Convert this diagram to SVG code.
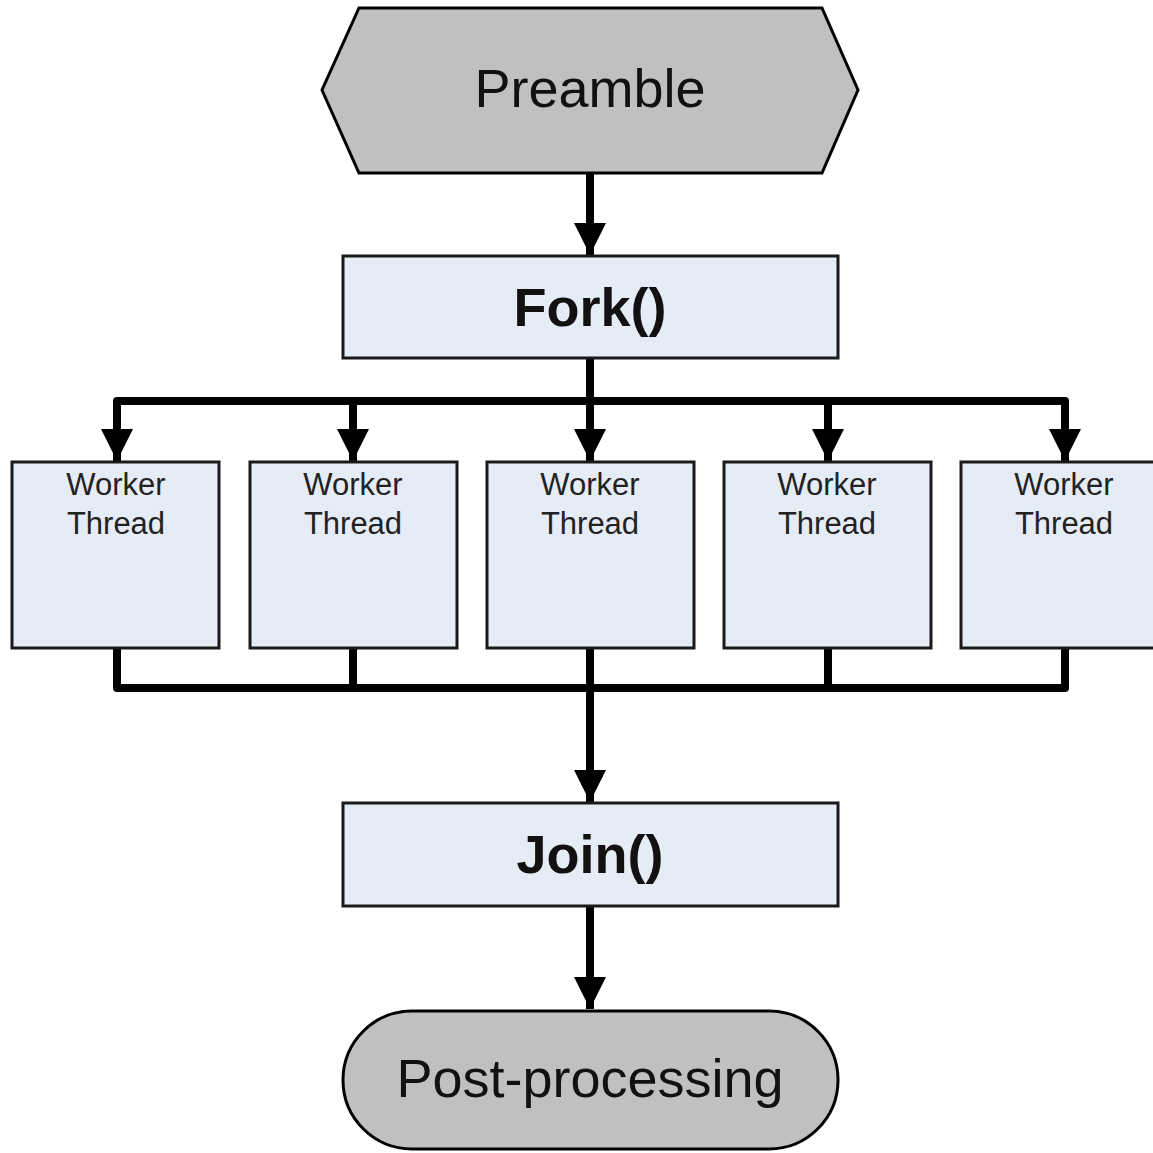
<svg xmlns="http://www.w3.org/2000/svg" width="1153" height="1153" viewBox="0 0 1153 1153">
  <defs>
    <marker id="arrow" viewBox="0 0 10 10" refX="10" refY="5" markerWidth="4" markerHeight="4" markerUnits="strokeWidth" orient="auto">
      <path d="M0,0 L10,5 L0,10 Z" fill="#000"/>
    </marker>
    <style>
      .gray { fill: #c0c0c0; stroke: #000; stroke-width: 3; }
      .box { fill: #e6ecf6; stroke: #1a1a1a; stroke-width: 3; }
      .wire { fill: none; stroke: #000; stroke-width: 8; stroke-linejoin: round; }
      .arr { fill: none; stroke: #000; stroke-width: 8; marker-end: url(#arrow); }
      .big { font-family: "Liberation Sans", Arial, sans-serif; font-size: 54px; fill: #111; text-anchor: middle; }
      .bold { font-weight: bold; }
      .small { font-family: "Liberation Sans", Arial, sans-serif; font-size: 31px; fill: #222; text-anchor: middle; }
    </style>
  </defs>
  <rect width="1153" height="1153" fill="#fff"/>

  <g id="connectors">
    <line class="arr" x1="590" y1="173" x2="590" y2="255"/>
    <path class="wire" d="M590,358 V401"/>
    <path class="wire" d="M117,430 V401 H1065 V430"/>
    <line class="arr" x1="117" y1="401" x2="117" y2="461"/>
    <line class="arr" x1="353" y1="401" x2="353" y2="461"/>
    <line class="arr" x1="590" y1="401" x2="590" y2="461"/>
    <line class="arr" x1="828" y1="401" x2="828" y2="461"/>
    <line class="arr" x1="1065" y1="401" x2="1065" y2="461"/>
    <path class="wire" d="M117,648 V688 H1065 V648"/>
    <path class="wire" d="M353,648 V688"/>
    <path class="wire" d="M828,648 V688"/>
    <line class="arr" x1="590" y1="648" x2="590" y2="802"/>
    <line class="arr" x1="590" y1="906" x2="590" y2="1009"/>
  </g>

  <g id="preamble">
    <polygon class="gray" points="359,8 822,8 858,90 822,173 359,173 322,90"/>
    <text class="big" x="590" y="107">Preamble</text>
  </g>

  <g id="fork">
    <rect class="box" x="343" y="256" width="495" height="102"/>
    <text class="big bold" x="590" y="326">Fork()</text>
  </g>

  <g id="worker1">
    <rect class="box" x="12" y="462" width="207" height="186"/>
    <text class="small" x="116" y="495">Worker</text>
    <text class="small" x="116" y="534">Thread</text>
  </g>
  <g id="worker2">
    <rect class="box" x="250" y="462" width="207" height="186"/>
    <text class="small" x="353" y="495">Worker</text>
    <text class="small" x="353" y="534">Thread</text>
  </g>
  <g id="worker3">
    <rect class="box" x="487" y="462" width="207" height="186"/>
    <text class="small" x="590" y="495">Worker</text>
    <text class="small" x="590" y="534">Thread</text>
  </g>
  <g id="worker4">
    <rect class="box" x="724" y="462" width="207" height="186"/>
    <text class="small" x="827" y="495">Worker</text>
    <text class="small" x="827" y="534">Thread</text>
  </g>
  <g id="worker5">
    <rect class="box" x="961" y="462" width="207" height="186"/>
    <text class="small" x="1064" y="495">Worker</text>
    <text class="small" x="1064" y="534">Thread</text>
  </g>

  <g id="join">
    <rect class="box" x="343" y="803" width="495" height="103"/>
    <text class="big bold" x="590" y="873">Join()</text>
  </g>

  <g id="postprocessing">
    <rect class="gray" x="343" y="1011" width="495" height="138" rx="69" ry="69"/>
    <text class="big" x="590" y="1097">Post-processing</text>
  </g>
</svg>
